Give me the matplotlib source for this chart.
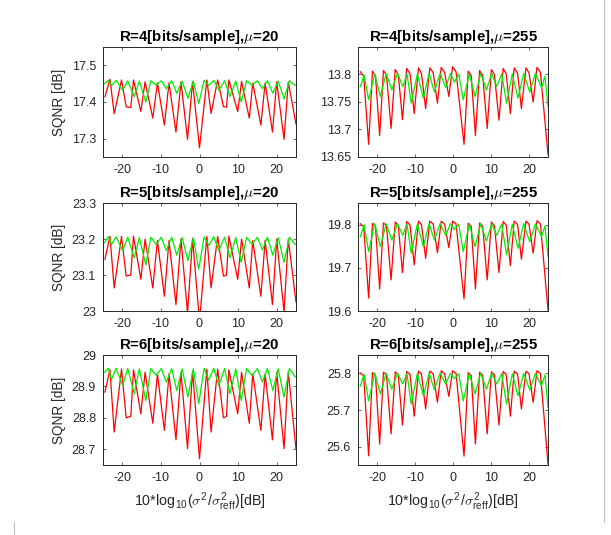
import matplotlib
matplotlib.use("Agg")
import matplotlib.pyplot as plt
from matplotlib.lines import Line2D

plt.rcParams['font.family'] = ['Liberation Sans', 'DejaVu Sans']
plt.rcParams['mathtext.fontset'] = 'cm'
plt.rcParams['axes.unicode_minus'] = False

# ---------------- data ----------------
# mu = 20 column: red vertices x, green vertices x
red_x_mu20 = [-24.5, -23.2, -22.1, -20.2, -19.0, -17.8, -17.1, -15.2, -14.1, -12.1, -10.9, -9.1,
              -7.9, -6.1, -4.8, -3.1, -1.8, 0.0, 1.9, 3.0, 4.7, 6.2, 7.0, 7.6, 9.9, 10.9, 12.9,
              13.8, 15.9, 17.0, 18.9, 20.0, 21.9, 23.0, 25.0]
green_x_mu20 = [-24.6, -23.6, -22.8, -21.6, -19.9, -18.6, -16.9, -15.6, -13.9, -12.6, -11.2, -9.9,
                -8.6, -7.2, -5.9, -4.5, -3.0, -1.6, -0.2, 1.2, 2.4, 3.7, 5.0, 6.5, 7.9, 9.4, 10.8,
                12.2, 13.6, 15.0, 16.3, 17.6, 19.0, 20.4, 21.9, 23.3, 24.8]

red_R4_mu20 = [17.414, 17.462, 17.368, 17.460, 17.387, 17.385, 17.460, 17.374, 17.455, 17.356, 17.452,
               17.337, 17.452, 17.318, 17.455, 17.298, 17.455, 17.275, 17.460, 17.369, 17.460, 17.387,
               17.386, 17.460, 17.374, 17.456, 17.356, 17.452, 17.337, 17.452, 17.318, 17.455, 17.298,
               17.455, 17.340]
green_R4_mu20 = [17.450, 17.459, 17.445, 17.459, 17.432, 17.458, 17.415, 17.457, 17.400, 17.458, 17.446,
                 17.458, 17.436, 17.458, 17.424, 17.457, 17.410, 17.457, 17.396, 17.459, 17.445, 17.459,
                 17.432, 17.458, 17.415, 17.457, 17.400, 17.458, 17.446, 17.458, 17.436, 17.458, 17.424,
                 17.457, 17.408, 17.458, 17.445]

red_R5_mu20 = [23.144, 23.207, 23.064, 23.207, 23.097, 23.100, 23.208, 23.088, 23.200, 23.064, 23.196,
               23.041, 23.196, 23.018, 23.200, 22.995, 23.200, 22.972, 23.207, 23.064, 23.207, 23.097,
               23.100, 23.208, 23.088, 23.200, 23.064, 23.196, 23.041, 23.196, 23.018, 23.200, 22.997,
               23.200, 23.025]
green_R5_mu20 = [23.190, 23.206, 23.185, 23.206, 23.168, 23.205, 23.148, 23.204, 23.128, 23.205, 23.185,
                 23.205, 23.168, 23.205, 23.155, 23.204, 23.140, 23.204, 23.116, 23.206, 23.182, 23.206,
                 23.168, 23.205, 23.148, 23.204, 23.135, 23.205, 23.185, 23.205, 23.170, 23.205, 23.155,
                 23.204, 23.135, 23.205, 23.185]

red_R6_mu20 = [28.882, 28.953, 28.755, 28.956, 28.800, 28.805, 28.953, 28.813, 28.945, 28.783, 28.940,
               28.760, 28.940, 28.730, 28.945, 28.702, 28.948, 28.670, 28.955, 28.755, 28.955, 28.800,
               28.805, 28.953, 28.813, 28.945, 28.783, 28.940, 28.760, 28.940, 28.730, 28.945, 28.702,
               28.948, 28.700]
green_R6_mu20 = [28.945, 28.958, 28.922, 28.958, 28.903, 28.957, 28.877, 28.956, 28.855, 28.957, 28.935,
                 28.957, 28.914, 28.957, 28.887, 28.956, 28.866, 28.956, 28.845, 28.958, 28.920, 28.958,
                 28.903, 28.957, 28.877, 28.956, 28.855, 28.957, 28.935, 28.957, 28.914, 28.957, 28.887,
                 28.956, 28.866, 28.957, 28.930]

# mu = 255 column
red_x_mu255 = [-24.4, -23.5, -22.2, -21.2, -20.4, -19.3, -18.3, -17.5, -16.3, -15.2, -14.4, -13.3,
               -12.2, -11.3, -10.2, -9.1, -8.3, -7.2, -6.1, -5.2, -4.1, -3.1, -2.2, -1.1, -0.1, 0.8,
               2.9, 4.0, 4.8, 5.9, 7.0, 7.8, 9.0, 10.1, 10.9, 12.1, 13.2, 14.0, 15.1, 16.1, 17.0, 18.0,
               19.2, 20.0, 21.1, 22.1, 23.0, 25.0]
green_x_mu255 = [-24.4, -23.4, -22.2, -20.6, -19.1, -17.6, -16.1, -14.6, -13.2, -12.1, -11.0, -9.4,
                 -7.8, -6.3, -4.9, -3.4, -1.9, -0.7, 0.4, 1.5, 2.7, 4.3, 5.8, 7.3, 8.8, 10.2, 11.5,
                 12.8, 14.1, 15.6, 17.1, 18.6, 20.2, 21.7, 23.3, 24.2, 25.0]

red_R4_mu255 = [13.805, 13.797, 13.673, 13.806, 13.798, 13.689, 13.807, 13.799, 13.702, 13.809, 13.800,
                13.718, 13.811, 13.801, 13.729, 13.812, 13.802, 13.738, 13.812, 13.803, 13.748, 13.813,
                13.804, 13.760, 13.814, 13.805, 13.673, 13.806, 13.798, 13.689, 13.807, 13.799, 13.702,
                13.809, 13.800, 13.717, 13.811, 13.801, 13.729, 13.812, 13.802, 13.738, 13.812, 13.803,
                13.750, 13.813, 13.804, 13.655]
green_R4_mu255 = [13.778, 13.799, 13.754, 13.801, 13.760, 13.802, 13.772, 13.802, 13.778, 13.801, 13.748,
                  13.801, 13.757, 13.802, 13.768, 13.802, 13.776, 13.802, 13.786, 13.801, 13.754, 13.801,
                  13.760, 13.802, 13.772, 13.802, 13.778, 13.801, 13.748, 13.801, 13.757, 13.802, 13.768,
                  13.802, 13.776, 13.797, 13.741]

red_R5_mu255 = [19.802, 19.795, 19.630, 19.803, 19.796, 19.651, 19.804, 19.797, 19.672, 19.806, 19.798,
                19.689, 19.807, 19.799, 19.707, 19.808, 19.800, 19.722, 19.808, 19.801, 19.735, 19.808,
                19.801, 19.747, 19.808, 19.802, 19.628, 19.803, 19.796, 19.651, 19.804, 19.797, 19.672,
                19.806, 19.798, 19.689, 19.807, 19.799, 19.705, 19.808, 19.800, 19.720, 19.808, 19.801,
                19.734, 19.809, 19.802, 19.602]
green_R5_mu255 = [19.772, 19.800, 19.737, 19.802, 19.749, 19.802, 19.764, 19.802, 19.775, 19.801, 19.734,
                  19.801, 19.749, 19.802, 19.764, 19.802, 19.775, 19.802, 19.788, 19.801, 19.737, 19.801,
                  19.749, 19.802, 19.762, 19.802, 19.775, 19.801, 19.730, 19.801, 19.745, 19.802, 19.760,
                  19.802, 19.772, 19.797, 19.726]

red_R6_mu255 = [25.801, 25.793, 25.575, 25.802, 25.794, 25.607, 25.803, 25.795, 25.635, 25.804, 25.796,
                25.659, 25.805, 25.797, 25.683, 25.806, 25.798, 25.703, 25.806, 25.799, 25.721, 25.807,
                25.799, 25.737, 25.807, 25.800, 25.574, 25.802, 25.794, 25.607, 25.803, 25.795, 25.635,
                25.804, 25.796, 25.659, 25.805, 25.797, 25.683, 25.806, 25.798, 25.703, 25.806, 25.799,
                25.721, 25.807, 25.800, 25.553]
green_R6_mu255 = [25.765, 25.798, 25.725, 25.800, 25.744, 25.800, 25.757, 25.800, 25.771, 25.799, 25.716,
                  25.799, 25.739, 25.800, 25.755, 25.800, 25.771, 25.800, 25.785, 25.799, 25.725, 25.799,
                  25.744, 25.800, 25.757, 25.800, 25.771, 25.799, 25.716, 25.799, 25.739, 25.800, 25.755,
                  25.800, 25.766, 25.796, 25.707]

titles = ["R=4[bits/sample],$\\mu$=20", "R=4[bits/sample],$\\mu$=255",
          "R=5[bits/sample],$\\mu$=20", "R=5[bits/sample],$\\mu$=255",
          "R=6[bits/sample],$\\mu$=20", "R=6[bits/sample],$\\mu$=255"]
ylims = [(17.25, 17.55), (13.65, 13.85), (23.0, 23.3), (19.6, 19.85), (28.65, 29.0), (25.55, 25.85)]
yticks = [[17.3, 17.4, 17.5], [13.65, 13.7, 13.75, 13.8], [23, 23.1, 23.2, 23.3],
          [19.6, 19.7, 19.8], [28.7, 28.8, 28.9, 29], [25.6, 25.7, 25.8]]
xticks = [-20, -10, 0, 10, 20]
ylabel = "SQNR [dB]"
xlabel = (r"10*log$_{\mathregular{10}}$($\sigma^{\mathregular{2}}$/"
          r"$\sigma^{\mathregular{2}}_{\mathregular{reff}}$)[dB]")

series = [
    (red_x_mu20, red_R4_mu20, green_x_mu20, green_R4_mu20),
    (red_x_mu255, red_R4_mu255, green_x_mu255, green_R4_mu255),
    (red_x_mu20, red_R5_mu20, green_x_mu20, green_R5_mu20),
    (red_x_mu255, red_R5_mu255, green_x_mu255, green_R5_mu255),
    (red_x_mu20, red_R6_mu20, green_x_mu20, green_R6_mu20),
    (red_x_mu255, red_R6_mu255, green_x_mu255, green_R6_mu255),
]

# ---------------- layout ----------------
W, H = 611, 535
fig = plt.figure(figsize=(W / 100, H / 100), dpi=100)
cols = [(103, 296), (358, 548)]
rows = [(47, 157), (203, 311), (355, 465)]
axc = '#262626'

for i in range(6):
    r, c = divmod(i, 2)
    x0, x1 = cols[c]
    y0, y1 = rows[r]
    ax = fig.add_axes([x0 / W, 1 - y1 / H, (x1 - x0) / W, (y1 - y0) / H])
    rx, ry, gx, gy = series[i]
    ax.plot(rx, ry, color='#ff0000', lw=0.9)
    ax.plot(gx, gy, color='#00ee00', lw=0.9)
    ax.set_xlim(-25, 25)
    ax.set_ylim(*ylims[i])
    ax.set_xticks(xticks)
    ax.set_yticks(yticks[i])
    ax.set_yticklabels(['%g' % v for v in yticks[i]])
    ax.tick_params(direction='in', top=True, right=True, length=2.5, width=0.5,
                   labelsize=9, colors=axc, pad=5)
    for s in ax.spines.values():
        s.set_color(axc)
        s.set_linewidth(0.7)
    ax.set_title(titles[i], fontsize=10.8, fontweight='bold', color='black', pad=4)
    if c == 0:
        ax.set_ylabel(ylabel, fontsize=9.8, color=axc, labelpad=4)
    if r == 2:
        ax.set_xlabel(xlabel, fontsize=10.3, color=axc, labelpad=5)

# thin window-border lines seen in the screenshot
fig.add_artist(Line2D([603.5 / W, 603.5 / W], [1 - 522 / H, 1.0], transform=fig.transFigure,
                      color='#c0c0c0', lw=0.8))
fig.add_artist(Line2D([13.5 / W, 13.5 / W], [0.0, 1 - 522 / H], transform=fig.transFigure,
                      color='#c0c0c0', lw=0.8))

fig.savefig("out.png", dpi=100)
